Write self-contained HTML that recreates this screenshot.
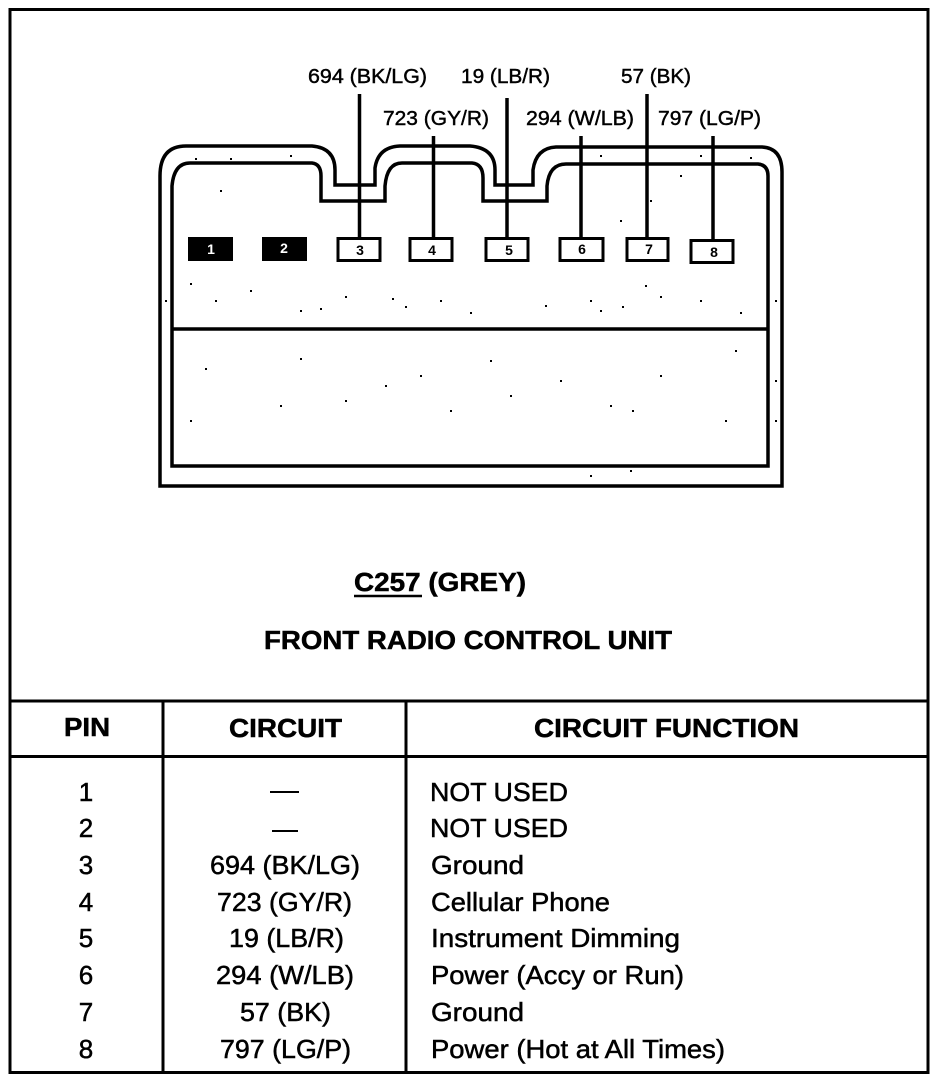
<!DOCTYPE html>
<html>
<head>
<meta charset="utf-8">
<title>C257 (GREY) Front Radio Control Unit</title>
<style>
html,body{margin:0;padding:0;background:#fff;width:944px;height:1082px;overflow:hidden}
svg{display:block}
text{font-family:"Liberation Sans",Arial,sans-serif;fill:#000;stroke:#000}
.l{font-size:20px;stroke-width:.45px}
.p{font-size:14px;font-weight:bold;stroke:none;text-anchor:middle}
.r{font-size:26px;stroke-width:.5px}
.h{font-size:26px;font-weight:bold;stroke-width:.5px}
</style>
</head>
<body>
<svg width="944" height="1082" viewBox="0 0 944 1082" xmlns="http://www.w3.org/2000/svg">
<rect width="944" height="1082" fill="#fff"/>
<g fill="none" stroke="#000">
<rect x="10" y="9.500" width="918" height="1063" stroke-width="3"/>
<path d="M10 701H928M10 756.500H928M163 701V1072M406 701V1072" stroke-width="3"/>
<path stroke-width="3.500" d="M160 486V176Q160 146 186 146H312Q335 148 335 170V185H375V168Q378 147 400 146H470Q495 148 495 170V185H533V170Q536 148 556 147H762Q782 148 782 172V486Z"/>
<path stroke-width="3.500" d="M172 466V186Q174 163 190 163H312Q321 164 321 176V201H385V186Q387 163 402 163H472Q483 164 483 178V201H547V186Q549 164 566 164H758Q768 165 768 176V466Z"/>
<path stroke-width="3.500" d="M172 329H768"/>
<path stroke-width="3.500" d="M359.500 94V238M433.500 136V238M507 98V238M581 136V238M647 94V238M713 136V240"/>
<g stroke-width="3">
<rect x="338" y="238.500" width="42" height="22"/>
<rect x="410" y="238.500" width="42" height="22"/>
<rect x="486" y="238.500" width="42" height="22"/>
<rect x="560" y="238.500" width="43" height="22"/>
<rect x="627" y="238.500" width="41" height="22"/>
<rect x="691" y="240.500" width="42" height="22"/>
</g>
<path stroke-width="2" d="M270 792H299M272 831H298"/>
<path stroke-width="2.500" d="M354 596H422"/>
</g>
<rect x="188" y="237" width="45" height="24" fill="#000"/>
<rect x="262" y="237" width="45" height="24" fill="#000"/>
<g fill="#000">
<path d="M190 283h2v2h-2zM215 300h2v2h-2zM250 290h2v2h-2zM300 310h2v2h-2zM320 308h2v2h-2zM345 296h2v2h-2zM392 298h2v2h-2zM405 306h2v2h-2zM440 300h2v2h-2zM470 312h2v2h-2zM545 305h2v2h-2zM590 300h2v2h-2zM600 310h2v2h-2zM622 306h2v2h-2zM645 285h2v2h-2zM660 296h2v2h-2zM700 300h2v2h-2zM740 312h2v2h-2zM205 368h2v2h-2zM300 358h2v2h-2zM345 400h2v2h-2zM385 385h2v2h-2zM420 375h2v2h-2zM490 360h2v2h-2zM510 395h2v2h-2zM560 380h2v2h-2zM610 405h2v2h-2zM632 410h2v2h-2zM660 375h2v2h-2zM735 350h2v2h-2zM725 420h2v2h-2zM190 420h2v2h-2zM775 380h2v2h-2zM775 420h2v2h-2zM775 300h2v2h-2zM165 300h2v2h-2zM280 405h2v2h-2zM450 410h2v2h-2zM590 475h2v2h-2zM630 470h2v2h-2zM195 158h2v2h-2zM230 158h2v2h-2zM290 155h2v2h-2zM600 155h2v2h-2zM700 155h2v2h-2zM750 157h2v2h-2zM680 175h2v2h-2zM220 190h2v2h-2zM650 200h2v2h-2zM620 220h2v2h-2z"/>
</g>
<text class="l" x="308" y="83" textLength="119" lengthAdjust="spacingAndGlyphs">694 (BK/LG)</text>
<text class="l" x="461" y="83" textLength="89" lengthAdjust="spacingAndGlyphs">19 (LB/R)</text>
<text class="l" x="621" y="83" textLength="70" lengthAdjust="spacingAndGlyphs">57 (BK)</text>
<text class="l" x="383" y="125" textLength="106" lengthAdjust="spacingAndGlyphs">723 (GY/R)</text>
<text class="l" x="526" y="125" textLength="108" lengthAdjust="spacingAndGlyphs">294 (W/LB)</text>
<text class="l" x="658" y="125" textLength="103" lengthAdjust="spacingAndGlyphs">797 (LG/P)</text>
<text class="p" x="211" y="254" style="fill:#fff">1</text>
<text class="p" x="284" y="253" style="fill:#fff">2</text>
<text class="p" x="360" y="255">3</text>
<text class="p" x="432" y="255">4</text>
<text class="p" x="509" y="255">5</text>
<text class="p" x="582" y="254">6</text>
<text class="p" x="649" y="254">7</text>
<text class="p" x="714" y="257">8</text>
<text class="h" x="354" y="591" textLength="172" lengthAdjust="spacingAndGlyphs">C257 (GREY)</text>
<text class="h" x="264" y="649" textLength="408" lengthAdjust="spacingAndGlyphs">FRONT RADIO CONTROL UNIT</text>
<text class="h" x="64" y="736" textLength="46" lengthAdjust="spacingAndGlyphs">PIN</text>
<text class="h" x="229" y="737" textLength="113" lengthAdjust="spacingAndGlyphs">CIRCUIT</text>
<text class="h" x="534" y="737" textLength="265" lengthAdjust="spacingAndGlyphs">CIRCUIT FUNCTION</text>
<g text-anchor="middle">
<text class="r" x="86" y="801">1</text>
<text class="r" x="86" y="837">2</text>
<text class="r" x="86" y="874">3</text>
<text class="r" x="86" y="911">4</text>
<text class="r" x="86" y="947">5</text>
<text class="r" x="86" y="984">6</text>
<text class="r" x="86" y="1021">7</text>
<text class="r" x="86" y="1058">8</text>
</g>
<text class="r" x="210" y="874" textLength="150" lengthAdjust="spacingAndGlyphs">694 (BK/LG)</text>
<text class="r" x="217" y="911" textLength="135" lengthAdjust="spacingAndGlyphs">723 (GY/R)</text>
<text class="r" x="229" y="947" textLength="115" lengthAdjust="spacingAndGlyphs">19 (LB/R)</text>
<text class="r" x="216" y="984" textLength="138" lengthAdjust="spacingAndGlyphs">294 (W/LB)</text>
<text class="r" x="240" y="1021" textLength="91" lengthAdjust="spacingAndGlyphs">57 (BK)</text>
<text class="r" x="220" y="1058" textLength="131" lengthAdjust="spacingAndGlyphs">797 (LG/P)</text>
<text class="r" x="430" y="801" textLength="138" lengthAdjust="spacingAndGlyphs">NOT USED</text>
<text class="r" x="430" y="837" textLength="138" lengthAdjust="spacingAndGlyphs">NOT USED</text>
<text class="r" x="431" y="874" textLength="93" lengthAdjust="spacingAndGlyphs">Ground</text>
<text class="r" x="431" y="911" textLength="179" lengthAdjust="spacingAndGlyphs">Cellular Phone</text>
<text class="r" x="431" y="947" textLength="249" lengthAdjust="spacingAndGlyphs">Instrument Dimming</text>
<text class="r" x="431" y="984" textLength="253" lengthAdjust="spacingAndGlyphs">Power (Accy or Run)</text>
<text class="r" x="431" y="1021" textLength="93" lengthAdjust="spacingAndGlyphs">Ground</text>
<text class="r" x="431" y="1058" textLength="294" lengthAdjust="spacingAndGlyphs">Power (Hot at All Times)</text>
</svg>
</body>
</html>
